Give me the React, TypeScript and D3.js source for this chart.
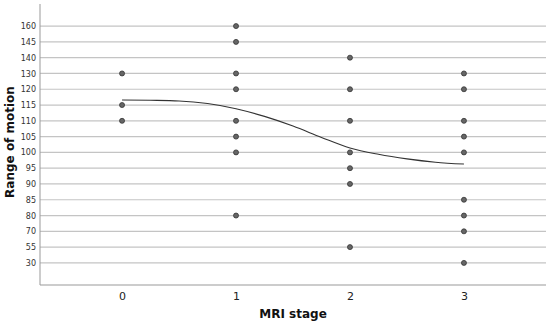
import React, { useRef, useEffect } from 'react';
import * as d3 from 'd3';

// y axis is categorical in the source chart (SPSS), top to bottom
const rangeLabels = ['160', '145', '140', '130', '120', '115', '110', '105', '100', '95', '90', '85', '80', '70', '55', '30'];
const stageTicks = [0, 1, 2, 3];

const stage0 = ['130', '115', '110'];
const stage1 = ['160', '145', '130', '120', '110', '105', '100', '80'];
const stage2 = ['140', '120', '110', '100', '95', '90', '55'];
const stage3 = ['130', '120', '110', '105', '100', '85', '80', '70', '30'];

// fit line, y in category-index units (0 = '160')
const fitStage = [0, 0.25, 0.5, 0.75, 1, 1.25, 1.5, 1.75, 2, 2.25, 2.5, 2.75, 3];
const fitIndex = [4.68, 4.7, 4.74, 4.9, 5.23, 5.72, 6.33, 7.05, 7.72, 8.12, 8.41, 8.62, 8.74];

const width = 550;
const height = 324;

const App = () => {
  const svgRef = useRef<SVGSVGElement>(null);

  useEffect(() => {
    const svg = d3.select(svgRef.current);
    svg.selectAll('*').remove();

    const margin = { top: 4, right: 4, bottom: 39, left: 40 };
    const innerW = width - margin.left - margin.right;
    const innerH = height - margin.top - margin.bottom;
    const font = '"DejaVu Sans", Verdana, sans-serif';

    const x = d3.scaleLinear().domain([-0.72, 3.72]).range([0, innerW]);
    const y = d3.scalePoint<string>().domain(rangeLabels).range([0, innerH]).padding(1.4);
    const step = y.step();
    const yIdx = (i: number) => (y(rangeLabels[0]) as number) + i * step;

    const g = svg.append('g').attr('transform', `translate(${margin.left},${margin.top})`);

    // gridlines
    g.selectAll('.grid')
      .data(rangeLabels)
      .enter().append('line')
        .attr('x1', 0)
        .attr('x2', innerW)
        .attr('y1', d => y(d) as number)
        .attr('y2', d => y(d) as number)
        .attr('stroke', '#c4c4c4')
        .attr('stroke-width', 1.2);

    // y labels
    const yAxis = g.append('g').call(d3.axisLeft(y).tickSize(0).tickPadding(4));
    yAxis.select('.domain').remove();
    yAxis.selectAll('text')
      .attr('font-family', font)
      .attr('font-size', 8)
      .attr('fill', '#333');

    // x labels
    const xAxis = g.append('g')
      .attr('transform', `translate(0,${innerH})`)
      .call(d3.axisBottom(x).tickValues(stageTicks).tickFormat(d3.format('d')).tickSize(0).tickPadding(7));
    xAxis.select('.domain').remove();
    xAxis.selectAll('text')
      .attr('font-family', font)
      .attr('font-size', 11)
      .attr('fill', '#222');

    // axis lines
    g.append('line')
      .attr('x1', 0).attr('x2', 0).attr('y1', 0).attr('y2', innerH)
      .attr('stroke', '#999').attr('stroke-width', 1);
    g.append('line')
      .attr('x1', 0).attr('x2', innerW).attr('y1', innerH).attr('y2', innerH)
      .attr('stroke', '#999').attr('stroke-width', 1.2);

    // fit line
    const fit = fitStage.map((s, i) => [s, fitIndex[i]] as [number, number]);
    g.append('path')
      .datum(fit)
      .attr('fill', 'none')
      .attr('stroke', '#333')
      .attr('stroke-width', 1.1)
      .attr('d', d3.line<[number, number]>()
        .x(d => x(d[0]))
        .y(d => yIdx(d[1]))
        .curve(d3.curveMonotoneX));

    // points
    const points = [stage0, stage1, stage2, stage3].flatMap((vals, s) => vals.map(v => ({ s, v })));
    g.selectAll('.pt')
      .data(points)
      .enter().append('circle')
        .attr('cx', d => x(d.s))
        .attr('cy', d => y(d.v) as number)
        .attr('r', 2.5)
        .attr('fill', '#666')
        .attr('stroke', '#333')
        .attr('stroke-width', 0.8);

    // titles
    svg.append('text')
      .attr('x', margin.left + innerW / 2)
      .attr('y', 318)
      .attr('text-anchor', 'middle')
      .attr('font-family', font)
      .attr('font-size', 12)
      .attr('font-weight', 'bold')
      .attr('fill', '#111')
      .text('MRI stage');

    svg.append('text')
      .attr('transform', `translate(14,142) rotate(-90)`)
      .attr('text-anchor', 'middle')
      .attr('font-family', font)
      .attr('font-size', 12)
      .attr('font-weight', 'bold')
      .attr('fill', '#111')
      .text('Range of motion');
  }, []);

  return <svg ref={svgRef} width={width} height={height} style={{ position: 'absolute', left: 0, top: 0 }} />;
};

export default App;
